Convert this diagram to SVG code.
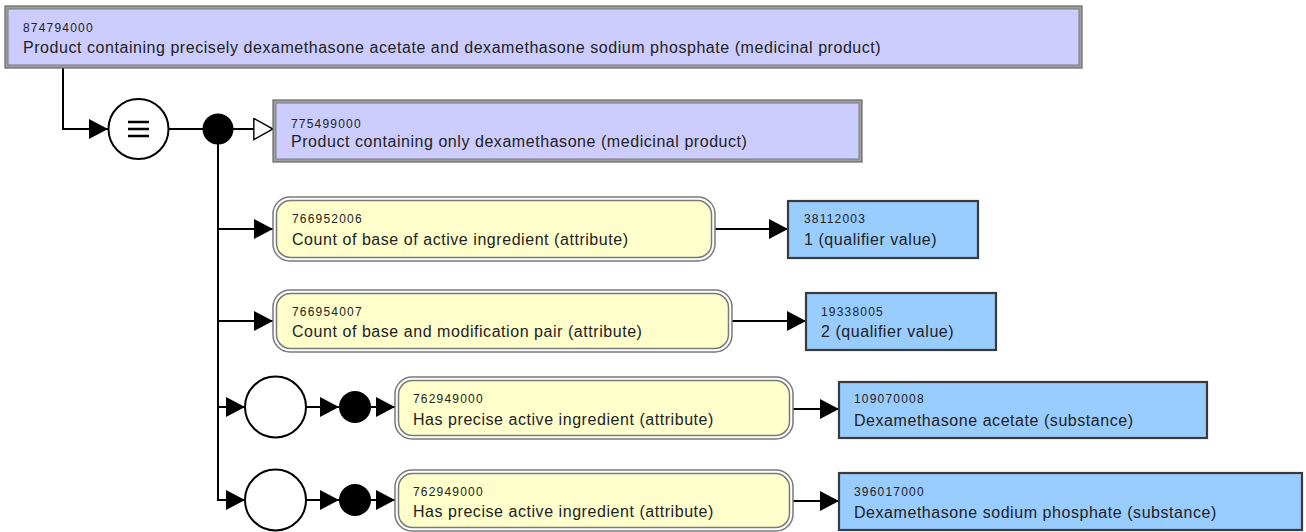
<svg xmlns="http://www.w3.org/2000/svg" width="1306" height="532" viewBox="0 0 1306 532">
<style>
  .num { font-family: "Liberation Sans", Arial, sans-serif; font-size: 12px; letter-spacing: 1.2px; fill: #222; }
  .lbl { font-family: "Liberation Sans", Arial, sans-serif; font-size: 16px; letter-spacing: 0.55px; fill: #222; }
  .pOuter { fill: #a0a0a0; stroke: #666; stroke-width: 1.2; }
  .pInner { fill: #ccccff; stroke: #7a7a7a; stroke-width: 1; }
  .yOuter { fill: #ffffff; stroke: #7a7a7a; stroke-width: 1.5; }
  .yInner { fill: #ffffcc; stroke: #7a7a7a; stroke-width: 1.5; }
  .blue { fill: #99ccff; stroke: #3a3a3a; stroke-width: 2.2; }
  .conn { fill: none; stroke: #000; stroke-width: 2; }
  .ring { fill: #fff; stroke: #000; stroke-width: 2; }
  .dot { fill: #000; }
</style>
<defs>
  <marker id="arrow" markerUnits="userSpaceOnUse" markerWidth="20" markerHeight="22" refX="19" refY="10" orient="auto" viewBox="0 0 20 20">
    <path d="M0,0 L19,10 L0,20 Z" fill="#000"/>
  </marker>
  <marker id="open" markerUnits="userSpaceOnUse" markerWidth="22" markerHeight="23" refX="20" refY="11" orient="auto" viewBox="-1 -1 22 24">
    <path d="M0,0 L20,11 L0,22 Z" fill="#fff" stroke="#000" stroke-width="1.5"/>
  </marker>
</defs>

<g id="connectors">
  <path class="conn" d="M63,68 V129 H108" marker-end="url(#arrow)"/>
  <path class="conn" d="M169,129 H203" stroke-width="1.5"/>
  <path class="conn" d="M233,129 H273" marker-end="url(#open)"/>
  <path class="conn" d="M218,144 V500 H245" marker-end="url(#arrow)"/>
  <path class="conn" d="M218,229 H273" marker-end="url(#arrow)"/>
  <path class="conn" d="M218,321 H273" marker-end="url(#arrow)"/>
  <path class="conn" d="M218,407 H245" marker-end="url(#arrow)"/>
  <path class="conn" d="M306,407 H339" marker-end="url(#arrow)"/>
  <path class="conn" d="M371,407 H395" marker-end="url(#arrow)"/>
  <path class="conn" d="M306,500 H339" marker-end="url(#arrow)"/>
  <path class="conn" d="M371,500 H395" marker-end="url(#arrow)"/>
  <path class="conn" d="M715,229 H788" marker-end="url(#arrow)"/>
  <path class="conn" d="M732,321 H806" marker-end="url(#arrow)"/>
  <path class="conn" d="M793,409 H839" marker-end="url(#arrow)"/>
  <path class="conn" d="M793,501 H839" marker-end="url(#arrow)"/>
</g>

<g id="definition-status">
  <circle class="ring" cx="138.5" cy="129" r="30"/>
  <path d="M128,122 H149 M128,129 H149 M128,136 H149" stroke="#000" stroke-width="2.5" fill="none"/>
</g>
<g id="conjunction-1"><circle class="dot" cx="218" cy="129" r="15.5"/></g>
<g id="group-1"><circle class="ring" cx="275.5" cy="407" r="30.5"/></g>
<g id="conjunction-2"><circle class="dot" cx="355" cy="407" r="16"/></g>
<g id="group-2"><circle class="ring" cx="275.5" cy="500" r="30.5"/></g>
<g id="conjunction-3"><circle class="dot" cx="355" cy="500" r="16"/></g>

<g id="n874794000">
  <rect class="pOuter" x="5" y="6" width="1077" height="62"/>
  <rect class="pInner" x="8" y="9" width="1071" height="56"/>
  <text class="num" x="23" y="32">874794000</text>
  <text class="lbl" x="23" y="52.5">Product containing precisely dexamethasone acetate and dexamethasone sodium phosphate (medicinal product)</text>
</g>

<g id="n775499000">
  <rect class="pOuter" x="273" y="100" width="589" height="62"/>
  <rect class="pInner" x="276" y="103" width="583" height="56"/>
  <text class="num" x="291" y="127.5">775499000</text>
  <text class="lbl" x="291" y="147">Product containing only dexamethasone (medicinal product)</text>
</g>

<g id="n766952006">
  <rect class="yOuter" x="273" y="197" width="442" height="64" rx="17"/>
  <rect class="yInner" x="276.5" y="200.5" width="435" height="57" rx="14"/>
  <text class="num" x="292" y="223">766952006</text>
  <text class="lbl" x="292" y="245">Count of base of active ingredient (attribute)</text>
</g>

<g id="n766954007">
  <rect class="yOuter" x="273" y="290" width="459" height="62" rx="17"/>
  <rect class="yInner" x="276.5" y="293.5" width="452" height="55" rx="14"/>
  <text class="num" x="292" y="316">766954007</text>
  <text class="lbl" x="292" y="337">Count of base and modification pair (attribute)</text>
</g>

<g id="n762949000-1">
  <rect class="yOuter" x="395" y="377" width="398" height="62" rx="17"/>
  <rect class="yInner" x="398.5" y="380.5" width="391" height="55" rx="14"/>
  <text class="num" x="413" y="403">762949000</text>
  <text class="lbl" x="413" y="425">Has precise active ingredient (attribute)</text>
</g>

<g id="n762949000-2">
  <rect class="yOuter" x="395" y="470" width="398" height="61" rx="17"/>
  <rect class="yInner" x="398.5" y="473.5" width="391" height="54" rx="14"/>
  <text class="num" x="413" y="496">762949000</text>
  <text class="lbl" x="413" y="517">Has precise active ingredient (attribute)</text>
</g>

<g id="n38112003">
  <rect class="blue" x="788" y="201" width="190" height="57"/>
  <text class="num" x="804" y="223">38112003</text>
  <text class="lbl" x="804" y="245">1 (qualifier value)</text>
</g>

<g id="n19338005">
  <rect class="blue" x="806" y="293" width="190" height="57"/>
  <text class="num" x="821" y="316">19338005</text>
  <text class="lbl" x="821" y="337">2 (qualifier value)</text>
</g>

<g id="n109070008">
  <rect class="blue" x="839" y="382" width="368" height="56"/>
  <text class="num" x="854" y="403">109070008</text>
  <text class="lbl" x="854" y="426">Dexamethasone acetate (substance)</text>
</g>

<g id="n396017000">
  <rect class="blue" x="839" y="473" width="463" height="57"/>
  <text class="num" x="854" y="496">396017000</text>
  <text class="lbl" x="854" y="518">Dexamethasone sodium phosphate (substance)</text>
</g>
</svg>
